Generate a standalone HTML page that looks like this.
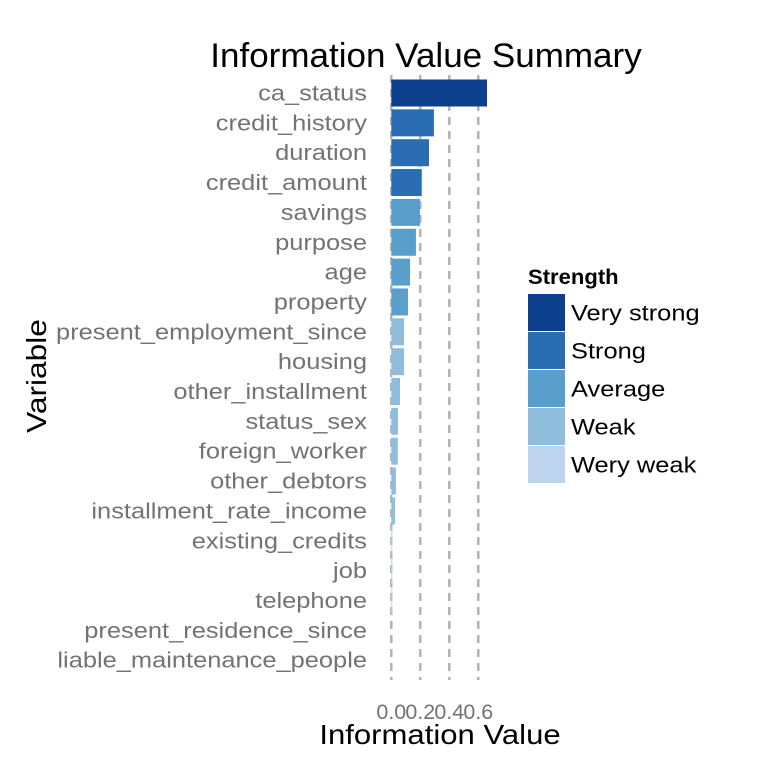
<!DOCTYPE html>
<html><head><meta charset="utf-8"><style>
body{margin:0;background:#fff;}
svg{display:block;font-family:"Liberation Sans",sans-serif;}
</style></head><body>
<svg id="chart" width="768" height="768">
<text id="title" x="426" y="67" font-size="34" text-anchor="middle" fill="#000">Information Value Summary</text>
<g id="grid"></g><g id="bars"></g><g id="ylab"></g><g id="xlab"></g>
<text id="xtitle" x="440" y="744" font-size="28" text-anchor="middle" fill="#000">Information Value</text>
<text id="ytitle" transform="translate(46,376) rotate(-90)" font-size="28" text-anchor="middle" fill="#000">Variable</text>
<g id="legend"></g>
</svg>
<script>
const categories=["ca_status","credit_history","duration","credit_amount","savings","purpose","age","property","present_employment_since","housing","other_installment","status_sex","foreign_worker","other_debtors","installment_rate_income","existing_credits","job","telephone","present_residence_since","liable_maintenance_people"];
const values=[0.66,0.294,0.26,0.21,0.198,0.17,0.129,0.115,0.088,0.088,0.06,0.046,0.045,0.032,0.026,0.003,0.002,0.002,0,0];
const strength=[0,1,1,1,2,2,2,2,3,3,3,3,3,3,3,4,4,4,4,4];
const levels=["Very strong","Strong","Average","Weak","Wery weak"];
const colors=["#0c3f8c","#2a6db3","#5a9fcc","#8fbedc","#bed4ee"];
const xticks=[0,0.2,0.4,0.6];
const NS="http://www.w3.org/2000/svg";
const x=v=>391.3+v*145;
const y=i=>93+i*29.85;
function mk(t,a,p){const e=document.createElementNS(NS,t);for(const k in a)e.setAttribute(k,a[k]);p.appendChild(e);return e;}
function fitTo(e,W){e.setAttribute('textLength',W);e.setAttribute('lengthAdjust','spacingAndGlyphs');}
function stretch(e,f){fitTo(e,e.getComputedTextLength()*f);}
const grid=document.getElementById('grid'),bars=document.getElementById('bars'),yl=document.getElementById('ylab'),xl=document.getElementById('xlab'),lg=document.getElementById('legend');
xticks.forEach(t=>{
 const l=mk('line',{x1:x(t),x2:x(t),y1:75,y2:680,stroke:'#b3b3b3','stroke-width':2.5,'stroke-dasharray':'8,6'},grid);
 
 
 const tx=mk('text',{x:x(t),y:719,'font-size':21,'text-anchor':'middle',fill:'#737373'},xl);
 tx.textContent=t.toFixed(1);
 
 
 stretch(tx,1.02);
});
categories.forEach((c,i)=>{
 const w=Math.max(values[i]*145,0);
 if(w>0){const r=mk('rect',{x:x(0),y:y(i)-13.5,width:Math.max(w,1),height:27,fill:colors[strength[i]]},bars);
 
 }
 const t=mk('text',{x:367,y:y(i)+7.5,'font-size':22.5,'text-anchor':'end',fill:'#737373'},yl);
 t.textContent=c;
 
 
 stretch(t,1.13);
});
const lt=mk('text',{x:528,y:284,'font-size':21,'font-weight':'bold',fill:'#000'},lg);
lt.textContent='Strength';


stretch(lt,1.05);
levels.forEach((s,i)=>{
 const r=mk('rect',{x:528,y:294+i*38,width:37,height:37,fill:colors[i]},lg);
 
 
 const t=mk('text',{x:571,y:320.5+i*38,'font-size':22.5,fill:'#000'},lg);
 t.textContent=s;
 
 
 stretch(t,1.13);
});
stretch(document.getElementById('title'),1.03);
stretch(document.getElementById('xtitle'),1.11);
stretch(document.getElementById('ytitle'),1.13);
</script>
</body></html>
